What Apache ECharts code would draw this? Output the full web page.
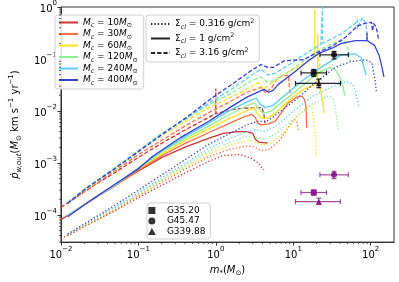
<!DOCTYPE html>
<html><head><meta charset="utf-8">
<script src="https://cdn.jsdelivr.net/npm/echarts@6/dist/echarts.min.js"></script>
<style>html,body{margin:0;padding:0;background:#fff}#c{width:399px;height:282px}</style>
</head><body><div id="c"></div>
<script>
// ---------------- data ----------------
const massLabels = ['10', '30', '60', '120', '240', '400'];
const massColors = ['#cc3333', '#ff6d40', '#f7e21c', '#90ee90', '#5ccdfa', '#3440d0'];
const sigmaLabels = ['0.316', '1', '3.16'];
const sigmaDash = [[1.3, 2.1], 'solid', [4.2, 2]];
const xTickValues = [0.01, 0.1, 1, 10, 100];
const yTickValues = [1e-4, 1e-3, 1e-2, 1e-1, 1];

// Sigma_cl = 0.316 (dotted)
const dotted10 = [[0.01,3.46e-5],[0.0213,6.3e-5],[0.0496,1.19e-4],[0.1,2.15e-4],[0.202,3.73e-4],[0.407,6.5e-4],[0.822,1.08e-3],[1.25,1.39e-3],[2.07,1.45e-3],[2.9,1.22e-3],[3.58,9.9e-4],[4.19,7.35e-4]];
const dotted30 = [[0.0122,3.93e-5],[0.0213,6.27e-5],[0.0496,1.24e-4],[0.1,2.34e-4],[0.202,4.23e-4],[0.407,7.7e-4],[0.822,1.33e-3],[1.44,1.79e-3],[2.52,2.12e-3],[3.16,2.04e-3],[3.85,1.72e-3],[4.81,1.79e-3],[6.75,2.74e-3],[8.94,5.2e-3],[10.3,6.97e-3],[11.1,6.14e-3],[11.8,4.02e-3]];
const dotted60 = [[0.0122,4.1e-5],[0.0213,6.55e-5],[0.0496,1.29e-4],[0.1,2.44e-4],[0.202,4.61e-4],[0.407,8.35e-4],[0.822,1.51e-3],[1.44,2.12e-3],[2.52,2.74e-3],[3.24,2.52e-3],[3.96,2.22e-3],[5.1,2.41e-3],[7.77,4.02e-3],[11.8,8.26e-3],[15.7,0.0126],[17.5,0.0111],[18.5,6.68e-3],[19.6,2.86e-3],[19.6,1.33e-3]];
const dotted120 = [[0.0122,4.1e-5],[0.0213,6.83e-5],[0.0496,1.35e-4],[0.1,2.55e-4],[0.202,4.81e-4],[0.407,9.1e-4],[0.822,1.72e-3],[1.44,2.41e-3],[2.52,3.25e-3],[3.34,3.11e-3],[4.19,2.86e-3],[5.87,3.53e-3],[10.3,7.27e-3],[18,0.01375],[27.5,0.0193],[31.6,0.0185],[34.8,0.0126],[36.4,6.68e-3],[38.2,4.37e-3]];
const dotted240 = [[0.0122,4.1e-5],[0.0213,6.83e-5],[0.0496,1.4e-4],[0.1,2.65e-4],[0.202,5.23e-4],[0.407,9.9e-4],[0.822,1.95e-3],[1.44,2.86e-3],[2.52,4.02e-3],[3.34,4.37e-3],[4.19,4.02e-3],[5.87,4.97e-3],[10.3,0.0102],[18,0.0193],[31.6,0.0295],[48.2,0.0365],[57.9,0.0335],[63.8,0.0239],[67,0.017],[70.3,0.0116]];
const dotted400 = [[0.0122,4.28e-5],[0.0213,7.1e-5],[0.0496,1.53e-4],[0.1,3.0e-4],[0.202,5.94e-4],[0.407,1.17e-3],[0.822,2.31e-3],[1.44,3.53e-3],[2.52,5.4e-3],[3.58,6.4e-3],[4.43,6.14e-3],[5.87,8.26e-3],[10.3,0.0156],[18,0.0321],[34.8,0.069],[55.5,0.089],[84.5,0.0968],[103,0.0853],[109,0.0558],[115,0.0365],[118,0.0239]];

// Sigma_cl = 1 (solid)
const solid10 = [[0.01,8.1e-5],[0.0161,1.29e-4],[0.0283,2.24e-4],[0.0496,3.73e-4],[0.1,7.0e-4],[0.202,1.28e-3],[0.407,2.04e-3],[0.822,2.99e-3],[1.25,3.69e-3],[1.91,4.02e-3],[2.52,4.02e-3],[3.0,3.69e-3],[3.24,2.86e-3],[3.58,2.52e-3],[4.69,2.41e-3]];
const solid30 = [[0.0122,9.6e-5],[0.0213,1.66e-4],[0.0496,3.57e-4],[0.1,7.35e-4],[0.202,1.39e-3],[0.407,2.41e-3],[0.822,3.85e-3],[1.44,5.64e-3],[2.4,7.9e-3],[2.9,8.6e-3],[3.24,7.6e-3],[3.45,5.9e-3],[3.85,5.4e-3],[4.81,5.64e-3],[5.87,6.4e-3],[8.45,0.01375],[11.1,0.0185],[12.9,0.0193],[14.1,0.0163],[14.6,0.0116],[14.9,4.76e-3]];
const solid60 = [[0.0122,9.6e-5],[0.0213,1.66e-4],[0.0496,3.73e-4],[0.1,7.7e-4],[0.202,1.51e-3],[0.407,2.74e-3],[0.822,4.56e-3],[1.44,6.97e-3],[2.52,0.0102],[3.1,0.0116],[3.45,9.0e-3],[3.85,7.27e-3],[4.69,7.27e-3],[5.87,9.0e-3],[8.94,0.0163],[13.6,0.026],[19.0,0.0321],[20.7,0.0415],[20.7,0.305],[20.7,0.0415],[21.4,0.0321],[22.7,0.0239],[23.9,0.0156],[25.2,9.0e-3]];
const solid120 = [[0.0122,9.6e-5],[0.0213,1.66e-4],[0.0496,3.73e-4],[0.1,8.0e-4],[0.202,1.65e-3],[0.407,2.99e-3],[0.822,5.18e-3],[1.44,8.26e-3],[2.52,0.0126],[3.16,0.01435],[3.58,0.0111],[4.1,9.0e-3],[5.1,9.8e-3],[7.77,0.0163],[13.6,0.0321],[20.7,0.0535],[29.5,0.069],[34.8,0.0634],[40.0,0.0451],[43.9,0.0295],[46.5,0.0193]];
const solid240 = [[0.0122,9.6e-5],[0.0213,1.66e-4],[0.0496,3.73e-4],[0.1,8.0e-4],[0.202,1.72e-3],[0.407,3.25e-3],[0.822,5.89e-3],[1.44,9.8e-3],[2.52,0.015],[3.34,0.0177],[3.7,0.01375],[4.31,0.0116],[5.4,0.0126],[7.77,0.0201],[13.6,0.0397],[23.9,0.072],[41.9,0.12],[63.8,0.125],[75.8,0.1055],[81.9,0.069],[87,0.0491]];
const solid400 = [[0.0122,9.2e-5],[0.0213,1.66e-4],[0.0496,3.89e-4],[0.1,7.7e-4],[0.152,1.33e-3],[0.354,3.11e-3],[0.822,6.4e-3],[1.44,0.0111],[2.52,0.0185],[4.19,0.026],[4.81,0.0229],[5.5,0.0249],[6.37,0.0321],[10.3,0.0558],[15.7,0.0929],[21.9,0.13],[31.6,0.161],[41.9,0.1995],[63.8,0.226],[89.6,0.226],[89.6,0.318],[89.6,0.226],[112,0.183],[129,0.115],[140,0.069],[148,0.0451]];

// Sigma_cl = 3.16 (dashed)
const dashed10 = [[0.01,1.4e-4],[0.0161,2.24e-4],[0.0283,3.9e-4],[0.0496,6.5e-4],[0.1,1.28e-3],[0.202,2.41e-3],[0.407,4.37e-3],[0.822,7.6e-3],[1.0,8.9e-3],[1.0,0.0271],[1.0,8.9e-3],[1.03,9.4e-3],[1.91,0.0111],[3.34,0.0116],[3.96,0.0116],[4.19,8.3e-3],[4.31,5.9e-3]];
const dashed30 = [[0.0122,1.66e-4],[0.0213,3.0e-4],[0.0496,7.0e-4],[0.1,1.45e-3],[0.202,2.74e-3],[0.407,5.2e-3],[0.822,9.4e-3],[1.44,0.01435],[2.52,0.0229],[3.85,0.0283],[4.43,0.0219],[5.4,0.0295],[6.2,0.0432],[7.77,0.0471],[8.7,0.0491],[8.94,0.0271],[9.2,0.021]];
const dashed60 = [[0.0122,1.74e-4],[0.0213,3.15e-4],[0.0496,7.7e-4],[0.1,1.65e-3],[0.202,3.39e-3],[0.407,6.4e-3],[0.822,0.0116],[1.66,0.0193],[2.9,0.0295],[3.58,0.035],[4.1,0.026],[5.1,0.0335],[7.77,0.0512],[13.6,0.0817],[18,0.1055],[19.0,0.12],[19.0,0.88],[19.0,0.12],[21.4,0.097],[22.7,0.0558]];
const dashed120 = [[0.0122,1.74e-4],[0.0213,3.28e-4],[0.0496,8.0e-4],[0.1,1.72e-3],[0.202,3.69e-3],[0.407,6.97e-3],[0.822,0.0132],[1.66,0.0229],[2.9,0.0381],[3.85,0.0451],[4.69,0.035],[5.87,0.0397],[8.94,0.0582],[13.6,0.0929],[23.9,0.161],[36.4,0.217],[45.6,0.226],[50.3,0.161],[52.9,0.115],[55.5,0.089]];
const dashed240 = [[0.0122,1.74e-4],[0.0213,3.28e-4],[0.0496,8.0e-4],[0.1,1.72e-3],[0.202,3.69e-3],[0.407,7.27e-3],[0.822,0.01435],[1.66,0.0271],[2.9,0.0491],[3.85,0.0634],[4.69,0.0491],[5.87,0.0535],[8.94,0.0784],[13.6,0.12],[22.7,0.191],[23.9,0.191],[23.9,1.0],[23.9,0.1995],[41.9,0.305],[63.8,0.486],[67,0.576],[67,0.377],[73.5,0.53],[79,0.627],[87,0.466],[89.6,0.305],[92.2,0.1995]];
const dashed400 = [[0.0122,1.66e-4],[0.0213,3.28e-4],[0.0496,7.7e-4],[0.1,1.65e-3],[0.202,3.53e-3],[0.407,7.27e-3],[0.822,0.0163],[1.66,0.0335],[2.9,0.0607],[3.85,0.0784],[4.69,0.069],[5.5,0.069],[7.77,0.0929],[13.6,0.097],[19.6,0.13],[31.6,0.175],[48.2,0.268],[67,0.428],[84.5,0.486],[103,0.507],[106,0.346],[109,0.486],[118,0.41],[126,0.247]];

// observed sources
const obsNames = ['G35.20', 'G45.47', 'G339.88'];
const obsSymbols = ['rect', 'circle', 'triangle'];
const obsMass = [18.4, 33.6, 21.4];
const obsMassLo = [12.6, 22.1, 10.7];
const obsMassHi = [26.9, 51.4, 40.7];
const obsRateA = [0.054, 0.12, 0.034];
const obsRateALo = [0.046, 0.10, 0.028];
const obsRateAHi = [0.063, 0.14, 0.041];
const obsRateB = [2.7e-4, 5.9e-4, 1.8e-4];
const obsRateBLo = [2.4e-4, 5.0e-4, 1.6e-4];
const obsRateBHi = [3.0e-4, 6.9e-4, 2.1e-4];

// ---------------- chart ----------------
const F = 'DejaVu Sans';
const curves = [
  [dotted10, solid10, dashed10], [dotted30, solid30, dashed30], [dotted60, solid60, dashed60],
  [dotted120, solid120, dashed120], [dotted240, solid240, dashed240], [dotted400, solid400, dashed400]
];
const XMIN = 0.01, XMAX = 200, YMIN = 3e-5, YMAX = 1;

function powLabel(v) {
  const e = Math.round(Math.log10(v));
  if (Math.abs(Math.log10(v) - e) > 1e-6) return '';
  return '{b|10}{s|' + String(e).replace('-', '−') + '}';
}
const tickRich = {
  b: {fontFamily: F, fontSize: 10, color: '#000', lineHeight: 14, verticalAlign: 'bottom'},
  s: {fontFamily: F, fontSize: 7, color: '#000', lineHeight: 14, verticalAlign: 'top'}
};
const txtRich = (fs, lh) => ({
  n: {fontFamily: F, fontSize: fs, color: '#000', lineHeight: lh, verticalAlign: 'middle'},
  it: {fontFamily: F, fontSize: fs, fontStyle: 'italic', color: '#000', lineHeight: lh, verticalAlign: 'middle'},
  sub: {fontFamily: F, fontSize: fs * 0.7, color: '#000', lineHeight: lh, verticalAlign: 'bottom'},
  subi: {fontFamily: F, fontSize: fs * 0.7, fontStyle: 'italic', color: '#000', lineHeight: lh, verticalAlign: 'bottom'},
  sup: {fontFamily: F, fontSize: fs * 0.7, color: '#000', lineHeight: lh, verticalAlign: 'top'}
});
const legendIcons = {rect: 'path://M0,0L10,0L10,10L0,10Z', circle: 'circle', triangle: 'path://M5,0L10,9L0,9Z'};

const series = [];
// legend dummy series
massLabels.forEach((m, i) => series.push({name: 'M' + m, type: 'line', data: [], symbol: 'none', color: massColors[i], lineStyle: {width: 1.5, color: massColors[i]}}));
sigmaLabels.forEach((s, i) => series.push({name: 'S' + s, type: 'line', data: [], symbol: 'none', color: '#222', lineStyle: {width: 1.3, color: '#222', type: sigmaDash[i]}}));
obsNames.forEach((n, i) => series.push({name: n, type: 'scatter', data: [], symbol: obsSymbols[i], symbolSize: 7, itemStyle: {color: '#000'}}));

// model curves
curves.forEach((trip, i) => {
  trip.forEach((d, j) => {
    series.push({
      type: 'line', data: d, symbol: 'none', silent: true, z: 2 + i * 0.1,
      lineStyle: {color: massColors[i], width: 1.3, type: sigmaDash[j], cap: 'butt'},
      emphasis: {disabled: true}
    });
  });
});

// error bars
function errSeries(rate, lo, hi, col, alpha) {
  return {
    type: 'custom', silent: true, z: 10, clip: false,
    data: obsMass.map((m, i) => [m, rate[i], obsMassLo[i], obsMassHi[i], lo[i], hi[i]]),
    encode: {x: 0, y: 1},
    renderItem: (params, api) => {
      const c = api.coord([api.value(0), api.value(1)]);
      const l = api.coord([api.value(2), api.value(1)]);
      const r = api.coord([api.value(3), api.value(1)]);
      const b = api.coord([api.value(0), api.value(4)]);
      const t = api.coord([api.value(0), api.value(5)]);
      const cap = 2.5, st = {stroke: col, lineWidth: 1.2, opacity: alpha};
      const L = (x1, y1, x2, y2) => ({type: 'line', shape: {x1, y1, x2, y2}, style: st});
      return {type: 'group', children: [
        L(l[0], c[1], r[0], c[1]), L(l[0], c[1] - cap, l[0], c[1] + cap), L(r[0], c[1] - cap, r[0], c[1] + cap),
        L(c[0], b[1], c[0], t[1]), L(c[0] - cap, b[1], c[0] + cap, b[1]), L(c[0] - cap, t[1], c[0] + cap, t[1])
      ]};
    }
  };
}
series.push(errSeries(obsRateA, obsRateALo, obsRateAHi, '#000', 0.85));
series.push(errSeries(obsRateB, obsRateBLo, obsRateBHi, '#800080', 0.7));
series.push({type: 'scatter', silent: true, z: 11, itemStyle: {color: '#000'},
  data: obsMass.map((m, i) => ({value: [m, obsRateA[i]], symbol: obsSymbols[i], symbolSize: 6}))});
series.push({type: 'scatter', silent: true, z: 11, itemStyle: {color: '#800080'},
  data: obsMass.map((m, i) => ({value: [m, obsRateB[i]], symbol: obsSymbols[i], symbolSize: 6}))});

// minor ticks (log decades)
const minorX = [], minorY = [];
for (let e = -2; e <= 2; e++) for (let k = 2; k <= 9; k++) { const v = k * Math.pow(10, e); if (v > XMIN && v < XMAX) minorX.push([v, YMIN]); }
for (let e = -5; e <= 0; e++) for (let k = 2; k <= 9; k++) { const v = k * Math.pow(10, e); if (v > YMIN && v < YMAX) minorY.push([XMIN, v]); }
series.push({type: 'custom', silent: true, clip: false, z: 12, data: minorX, encode: {x: 0, y: 1},
  renderItem: (p, api) => { const c = api.coord([api.value(0), api.value(1)]);
    return {type: 'line', shape: {x1: c[0], y1: c[1], x2: c[0], y2: c[1] + 2}, style: {stroke: '#333', lineWidth: 0.8}}; }});
series.push({type: 'custom', silent: true, clip: false, z: 12, data: minorY, encode: {x: 0, y: 1},
  renderItem: (p, api) => { const c = api.coord([api.value(0), api.value(1)]);
    return {type: 'line', shape: {x1: c[0] - 2, y1: c[1], x2: c[0], y2: c[1]}, style: {stroke: '#333', lineWidth: 0.8}}; }});

const legendBase = {
  orient: 'vertical', selectedMode: false, backgroundColor: 'rgba(255,255,255,0.85)',
  borderColor: '#d0d0d0', borderWidth: 1, borderRadius: 3, itemWidth: 19, itemHeight: 8
};

const option = {
  animation: false,
  backgroundColor: '#fff',
  grid: {left: 43, right: 5, top: 7, bottom: 29, show: true, borderColor: '#333', borderWidth: 1, backgroundColor: 'transparent'},
  xAxis: {
    type: 'log', logBase: 10, min: XMIN, max: XMAX,
    axisLine: {lineStyle: {color: '#333'}}, axisTick: {length: 3.5, lineStyle: {color: '#333'}},
    splitLine: {show: false},
    axisLabel: {formatter: powLabel, rich: tickRich, margin: 4, showMaxLabel: false},
    name: '{it|m}{sub|*}{n|(}{it|M}{sub|⊙}{n|)}', nameLocation: 'middle', nameGap: 17,
    nameTextStyle: {rich: txtRich(10, 14)}
  },
  yAxis: {
    type: 'log', logBase: 10, min: YMIN, max: YMAX,
    axisLine: {lineStyle: {color: '#333'}}, axisTick: {length: 3.5, lineStyle: {color: '#333'}},
    splitLine: {show: false},
    axisLabel: {formatter: powLabel, rich: tickRich, margin: 4, showMinLabel: false},
    name: '{it|ṗ}{subi|w,out}{n|(}{it|M}{sub|⊙}{n| km s}{sup|−1}{n| yr}{sup|−1}{n|)}', nameLocation: 'middle', nameGap: 28, nameRotate: 90,
    nameTextStyle: {rich: txtRich(10, 15)}
  },
  legend: [
    Object.assign({}, legendBase, {
      data: massLabels.map(m => 'M' + m), left: 55, top: 15, itemGap: 1, padding: [3, 6, 3, 3],
      itemStyle: {opacity: 0},
      formatter: n => '{it|M}{subi|c}{n| = ' + n.slice(1) + '}{it|M}{sub|⊙}',
      textStyle: {rich: txtRich(9, 12)}
    }),
    Object.assign({}, legendBase, {
      data: sigmaLabels.map(s => 'S' + s), left: 146, top: 15, itemGap: 2.5, padding: [3, 5, 3, 4],
      itemStyle: {opacity: 0},
      formatter: n => '{n|Σ}{subi|cl}{n| = ' + n.slice(1) + ' g/cm}{sup|2}',
      textStyle: {rich: txtRich(9, 12)}
    }),
    Object.assign({}, legendBase, {
      data: obsNames.map((n, i) => ({name: n, icon: legendIcons[obsSymbols[i]]})),
      left: 147, top: 203, itemGap: 1.5, padding: [3, 5, 3, 1], itemWidth: 20, itemHeight: 7,
      symbolKeepAspect: true,
      formatter: n => '{n|' + n + '}',
      textStyle: {rich: txtRich(9, 12)}
    })
  ],
  series
};
const chart = echarts.init(document.getElementById('c'), null, {renderer: 'canvas'});
chart.setOption(option);
</script>
</body></html>
